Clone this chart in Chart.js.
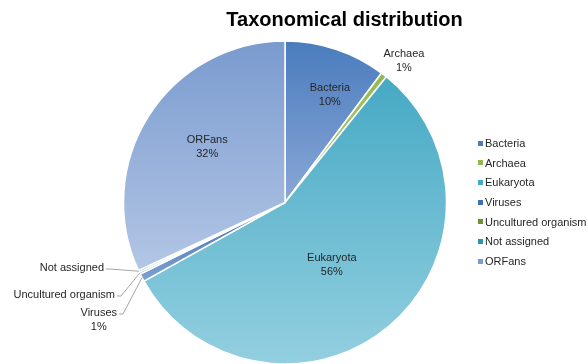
<!DOCTYPE html>
<html>
<head>
<meta charset="utf-8">
<script src="https://cdn.jsdelivr.net/npm/chart.js"></script>
<style>
  body { margin: 0; background: #fff; }
  #wrap { position: relative; width: 588px; height: 364px; overflow: hidden; font-family: "Liberation Sans", Arial, sans-serif; }
  #title { position: absolute; left: 0; top: 9px; width: 689px; text-align: center; font-size: 20px; line-height: 20px; font-weight: bold; color: #000; white-space: nowrap; }
  #legend { position: absolute; left: 478px; top: 134px; font-size: 11px; color: #262626; white-space: nowrap; }
  #legend div { height: 19.7px; line-height: 19.7px; }
  #legend span.box { display: inline-block; width: 5px; height: 5px; margin-right: 2px; vertical-align: middle; position: relative; top: -1px; }
  canvas { position: absolute; left: 0; top: 0; }
</style>
</head>
<body>
<div id="wrap">
  <canvas id="pie" width="588" height="364"></canvas>
  <div id="title">Taxonomical distribution</div>
  <div id="legend"></div>
</div>
<script>
const categories = ["Bacteria", "Archaea", "Eukaryota", "Viruses", "Uncultured organism", "Not assigned", "ORFans"];
const shares = [10.2, 0.6, 56.1, 0.8, 0.2, 0.2, 31.9];

// gradient top / bottom colours per slice, legend uses the top one
const topColors = ["#4a7cbd", "#93b84f", "#46a9c4", "#3f70b4", "#6f8f35", "#2f93ad", "#7a9bcf"];
const bottomColors = ["#8aa7d7", "#b9d286", "#93cfe0", "#7fa0d2", "#a4bf6c", "#7cc3d6", "#b3c6e5"];

// label placement: inside/outside by radius factor, or leader line to a spot left of the pie
const labelSpots = [
  { f: 0.73, da: 4, dy: 1 },
  { f: 1.15, da: 2, dy: 1 },
  { f: 0.48, da: 3, dy: 1 },
  { leader: true, dx: -168, dy: 110 },
  { leader: true, dx: -170, dy: 92 },
  { leader: true, dx: -181, dy: 65 },
  { f: 0.6, da: 4, dy: 2 }
];

const total = shares.reduce((a, b) => a + b, 0);

// legend
const legendNode = document.getElementById("legend");
categories.forEach((name, i) => {
  legendNode.innerHTML += `<div><span class="box" style="background:${topColors[i]}"></span>${name}</div>`;
});

const gradientPlugin = {
  id: "sliceGradient",
  beforeDatasetsDraw(chart) {
    const ctx = chart.ctx;
    const meta = chart.getDatasetMeta(0);
    meta.data.forEach((arc, i) => {
      const r = arc.outerRadius;
      let ys = [arc.y, arc.y + r * Math.sin(arc.startAngle), arc.y + r * Math.sin(arc.endAngle)];
      // top and bottom of the circle if the slice covers them
      for (let k = -1; k <= 2; k++) {
        const up = -Math.PI / 2 + k * 2 * Math.PI;
        const down = Math.PI / 2 + k * 2 * Math.PI;
        if (up > arc.startAngle && up < arc.endAngle) ys.push(arc.y - r);
        if (down > arc.startAngle && down < arc.endAngle) ys.push(arc.y + r);
      }
      const y0 = Math.min(...ys);
      const y1 = Math.max(...ys);
      const g = ctx.createLinearGradient(0, y0, 0, y1);
      g.addColorStop(0, topColors[i]);
      g.addColorStop(1, bottomColors[i]);
      arc.options.backgroundColor = g;
    });
  }
};

const labelPlugin = {
  id: "sliceLabels",
  afterDatasetsDraw(chart) {
    const ctx = chart.ctx;
    const meta = chart.getDatasetMeta(0);
    ctx.save();
    ctx.font = '11px "Liberation Sans", Arial, sans-serif';
    ctx.fillStyle = "#262626";
    ctx.textBaseline = "middle";
    ctx.textAlign = "center";
    const lineH = 14;
    meta.data.forEach((arc, i) => {
      const pct = Math.round(shares[i] / total * 100);
      const lines = [categories[i]];
      if (pct >= 1) lines.push(pct + "%");
      const spot = labelSpots[i];
      const mid = (arc.startAngle + arc.endAngle) / 2;
      let cx, cy;
      if (spot.leader) {
        const w = Math.max(...lines.map(t => ctx.measureText(t).width));
        const rightX = arc.x + spot.dx;
        const ty = arc.y + spot.dy;
        cx = rightX - w / 2;
        cy = ty + (lines.length - 1) * lineH / 2;
        // leader line
        const px = arc.x + arc.outerRadius * Math.cos(mid);
        const py = arc.y + arc.outerRadius * Math.sin(mid);
        ctx.strokeStyle = "#a6a6a6";
        ctx.lineWidth = 1;
        ctx.beginPath();
        ctx.moveTo(rightX + 2, ty + 1.5);
        ctx.lineTo(rightX + 6, ty + 1.5);
        ctx.lineTo(px, py);
        ctx.stroke();
      } else {
        const a = mid + spot.da * Math.PI / 180;
        cx = arc.x + arc.outerRadius * spot.f * Math.cos(a);
        cy = arc.y + arc.outerRadius * spot.f * Math.sin(a) + spot.dy;
      }
      const startY = cy - (lines.length - 1) * lineH / 2;
      lines.forEach((t, j) => ctx.fillText(t, cx, startY + j * lineH));
    });
    ctx.restore();
  }
};

new Chart(document.getElementById("pie").getContext("2d"), {
  type: "pie",
  data: {
    labels: categories,
    datasets: [{
      data: shares,
      backgroundColor: topColors.slice(),
      borderColor: "#ffffff",
      borderWidth: 1.5,
      radius: 161.5,
      clip: false
    }]
  },
  options: {
    responsive: false,
    animation: false,
    layout: { padding: { left: 122, right: 140, top: 41, bottom: 0 } },
    plugins: {
      legend: { display: false },
      title: { display: false },
      tooltip: { enabled: false }
    }
  },
  plugins: [gradientPlugin, labelPlugin]
});
</script>
</body>
</html>
